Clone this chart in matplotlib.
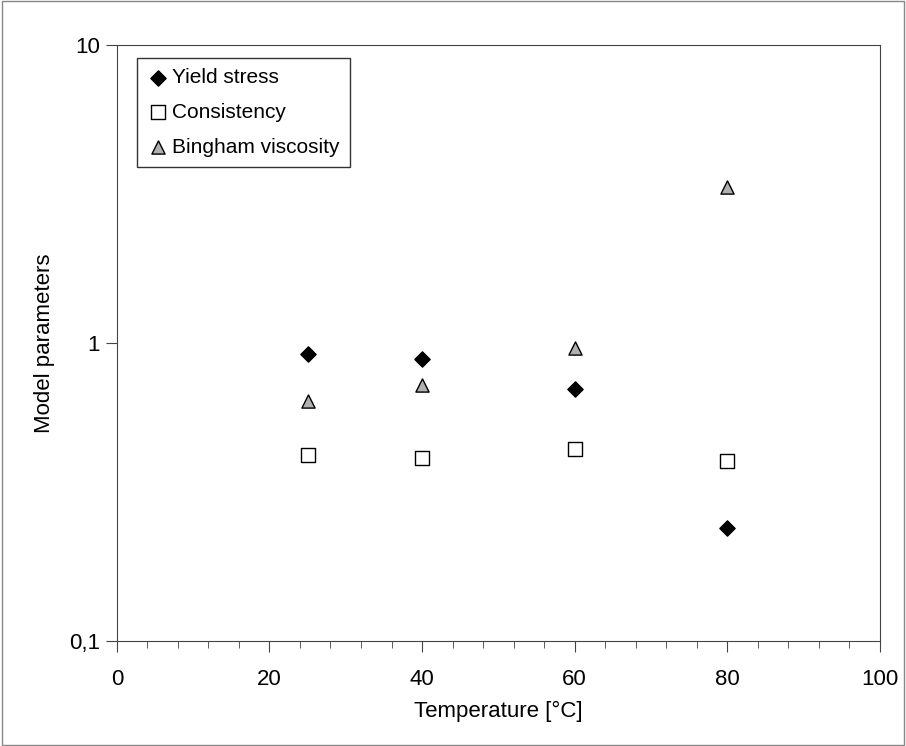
import matplotlib
matplotlib.use("Agg")
import matplotlib.pyplot as plt
from matplotlib.ticker import FixedLocator, FixedFormatter, MultipleLocator, NullLocator

temps = [25, 40, 60, 80]
yield_stress = [0.92, 0.88, 0.70, 0.24]
consistency = [0.42, 0.41, 0.44, 0.40]
bingham = [0.64, 0.72, 0.96, 3.33]

plt.rcParams["font.family"] = ["Liberation Sans", "DejaVu Sans"]
fig = plt.figure(figsize=(9.06, 7.46), dpi=100)
ax = fig.add_axes([0.129, 0.141, 0.842, 0.799])
fig.patches.append(plt.Rectangle((0.002, 0.002), 0.996, 0.996, transform=fig.transFigure,
                                 fill=False, edgecolor="#888888", linewidth=1))

ax.scatter(temps, yield_stress, marker="D", s=60, color="black", label="Yield stress", zorder=3)
ax.scatter(temps, consistency, marker="s", s=90, facecolor="white", edgecolor="black",
           label="Consistency", zorder=3)
ax.scatter(temps, bingham, marker="^", s=90, facecolor="#b0b0b0", edgecolor="black",
           label="Bingham viscosity", zorder=3)

ax.set_yscale("log")
ax.set_ylim(0.1, 10)
ax.set_xlim(0, 100)
ax.yaxis.set_major_locator(FixedLocator([0.1, 1, 10]))
ax.yaxis.set_major_formatter(FixedFormatter(["0,1", "1", "10"]))
ax.yaxis.set_minor_locator(NullLocator())
ax.xaxis.set_major_locator(MultipleLocator(20))
ax.xaxis.set_minor_locator(MultipleLocator(4))
ax.tick_params(which="both", direction="out", labelsize=16, color="#444444")
ax.tick_params(which="major", length=8)
ax.tick_params(which="minor", length=5)
ax.tick_params(axis="x", pad=12)
ax.tick_params(axis="y", pad=4)
for s in ax.spines.values():
    s.set_color("#444444")

ax.set_xlabel("Temperature [°C]", fontsize=16, labelpad=8)
ax.set_ylabel("Model parameters", fontsize=16, labelpad=10)
leg = ax.legend(loc="upper left", fontsize=15, fancybox=False, edgecolor="black",
                handletextpad=0.2, handlelength=1.0, borderpad=0.5, labelspacing=0.75,
                borderaxespad=0, bbox_to_anchor=(0.026, 0.978))
leg.get_frame().set_linewidth(1)

fig.savefig("out.png", dpi=100)
